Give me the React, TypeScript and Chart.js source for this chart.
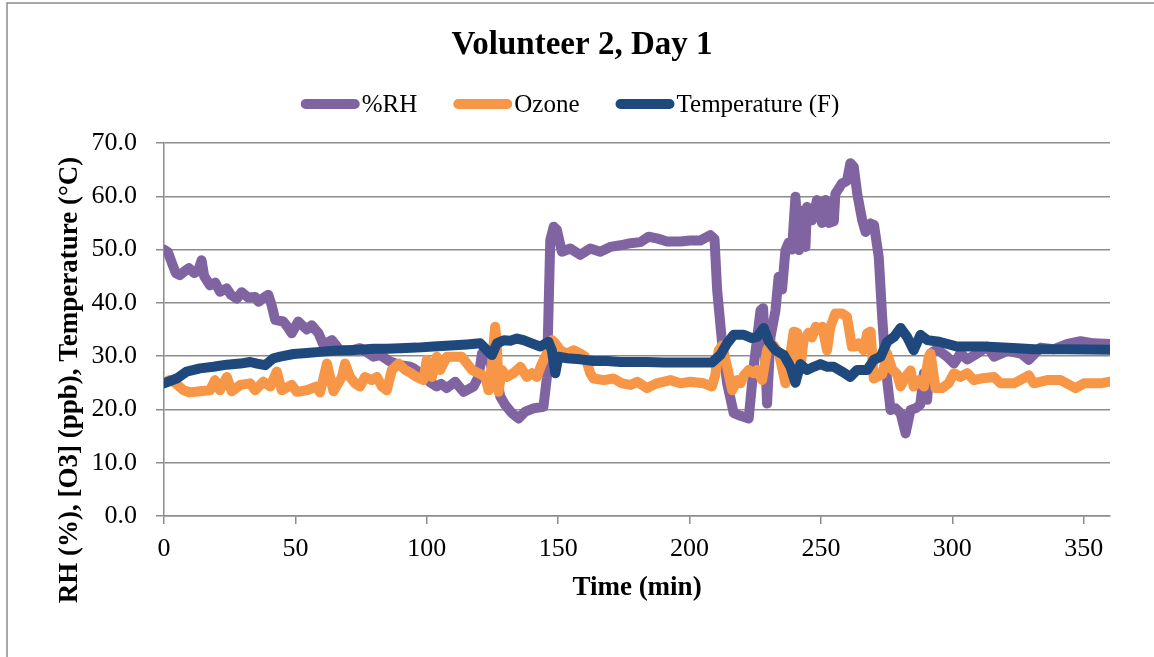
import React, { useEffect, useRef } from "react";
import { Chart, registerables } from "chart.js";

Chart.register(...registerables);

const TITLE = "Volunteer 2, Day 1";
const X_TITLE = "Time (min)";
const Y_TITLE = "RH (%), [O3] (ppb), Temperature (°C)";
const SERIES_LABELS = ["%RH", "Ozone", "Temperature (F)"];
const SERIES_COLORS = ["#8064A2", "#F79646", "#1F497D"];

const X_MIN = 0;
const X_MAX = 360;
const X_TICKS = [0, 50, 100, 150, 200, 250, 300, 350];
const Y_MIN = 0;
const Y_MAX = 70;
const Y_STEP = 10;

const RH_T = [
  0, 1.5, 3, 4.5, 6, 8, 9.5, 11.5, 13, 14.3, 15.3, 17.5, 19.5, 21.3, 23.8, 25.5, 27.7, 29.6, 32, 34.7,
  36, 38, 39.7, 41, 42.3, 45.4, 47, 48.6, 51.1, 54.3, 56.2, 58.8, 60.7, 63.9, 67, 70.8, 74.6, 77, 79.7, 82.2,
  86, 89.9, 93.7, 95, 97, 99.4, 101.5, 103.8, 105.5, 107.6, 110.8, 114, 117.8, 119.7, 121, 122.3, 124.1, 126.7, 128, 129.9,
  132.4, 134.9, 137.5, 140.6, 144.4, 145.7, 147, 148.3, 149.5, 151.4, 154.6, 158.4, 162.2, 166, 169.8, 173.7, 177.5, 181.3, 184.4, 187.6,
  191.4, 196.5, 200.3, 204.1, 207.9, 209.5, 210.5, 212.4, 214.3, 216.8, 219.4, 222.5, 224.4, 227, 228, 229.5, 230.8, 232.7, 233.9, 235.2,
  236.5, 237.7, 239, 240.3, 241.6, 242.8, 244.1, 244.7, 246.6, 248.5, 250.4, 251.7, 253, 254.9, 255.5, 258, 259.9, 261.2, 262.5, 263.8,
  265.7, 267, 268.9, 270.2, 272, 273.3, 274.6, 276.5, 278.4, 280.3, 282.2, 284.1, 286, 287.8, 289.2, 290.4, 291.7, 294.2, 298, 300.6,
  303.1, 305.7, 309.5, 313.3, 315.9, 321, 326.1, 329.1, 333.6, 338.7, 343.8, 348.8, 353.9, 360,
];
const RH_V = [
  50.0, 49.5, 47.5, 45.6, 45.2, 46.0, 46.5, 45.6, 46.0, 48.0, 45.0, 43.3, 43.8, 42.1, 42.7, 41.5, 40.8, 42.0, 41.0, 41.1,
  40.2, 41.0, 41.5, 39.5, 36.8, 36.5, 35.5, 34.3, 36.5, 35.0, 35.8, 34.3, 32.1, 33.0, 31.1, 31.0, 31.5, 30.8, 29.9, 30.2,
  29.0, 28.3, 28.0, 27.7, 27.0, 26.1, 25.0, 24.3, 24.8, 24.0, 25.2, 23.3, 24.3, 26.1, 30.5, 31.0, 28.7, 25.5, 22.4, 20.8,
  19.3, 18.3, 19.6, 20.2, 20.5, 26.0, 51.8, 54.3, 53.7, 49.6, 50.2, 49.0, 50.2, 49.6, 50.5, 50.8, 51.2, 51.4, 52.4, 52.1,
  51.5, 51.5, 51.7, 51.7, 52.7, 52.0, 42.4, 32.4, 24.9, 19.3, 18.8, 18.3, 28.0, 38.6, 39.0, 21.1, 33.6, 38.6, 44.9, 42.5,
  49.9, 51.3, 50.0, 59.9, 49.9, 57.3, 50.5, 58.0, 55.5, 59.3, 55.0, 59.3, 55.0, 55.3, 60.5, 62.4, 62.9, 66.2, 65.5, 60.5,
  55.5, 53.3, 54.9, 54.6, 48.6, 37.4, 28.0, 19.9, 20.2, 19.3, 15.5, 19.9, 20.2, 20.9, 26.8, 21.8, 30.5, 31.3, 29.9, 28.6,
  30.5, 29.4, 30.5, 31.8, 29.9, 31.0, 30.5, 29.3, 31.6, 31.3, 32.3, 32.8, 32.4, 32.3,
];

const OZONE_T = [
  0, 2, 4.2, 7.4, 9.9, 13.7, 17.5, 19.4, 21.3, 23.9, 25.8, 29, 32.8, 34.7, 37.8, 40.4, 42.9, 44.8, 48.6, 50.5,
  54.3, 58.1, 59.4, 62, 64.5, 67.7, 68.9, 70.8, 72.7, 74.6, 76.5, 79, 81, 82.9, 84.8, 86.7, 89.3, 91.8, 94, 96.2,
  98.7, 100, 102, 103.8, 105.1, 107.6, 110.8, 113.3, 115.3, 117.2, 119.7, 122.3, 123.5, 124.8, 126, 126.7, 127.3, 128.6, 130.5, 133,
  135.6, 138.1, 140, 141.9, 143.8, 145.7, 147.7, 148.9, 150.8, 153.3, 155.9, 158.4, 160.3, 162.2, 163.5, 167.3, 171.1, 174.3, 177.5, 180.1,
  183.8, 187.6, 192.7, 196.5, 200.3, 205.4, 208.5, 209.8, 211.1, 212.4, 214.3, 216.2, 218.1, 219.4, 220.7, 222.5, 224.4, 225.7, 227.6, 229.5,
  230.8, 232, 234, 236.5, 237.7, 239.6, 240.9, 242.1, 243.4, 245.3, 246.6, 248, 249.2, 250.5, 252.3, 253.6, 255.5, 258, 259.9, 261.8,
  263.1, 264.4, 266.3, 267.6, 268.9, 270.1, 273.3, 275.2, 277.1, 279, 280.3, 282.2, 284.1, 285.3, 287.2, 289.2, 291, 291.7, 293.6, 296.1,
  298.6, 300.6, 303.1, 305.7, 308.2, 310.8, 315.8, 318.4, 323.5, 329.1, 331, 336.1, 341.2, 346.9, 350.1, 356.4, 360,
];
const OZONE_V = [
  25.0, 25.5, 25.0, 23.6, 23.2, 23.4, 23.6, 25.5, 23.6, 26.1, 23.4, 24.6, 24.9, 23.6, 25.2, 24.3, 27.1, 23.6, 24.6, 23.3,
  23.6, 24.3, 23.2, 28.6, 23.4, 26.1, 28.6, 26.1, 24.9, 24.3, 26.1, 25.5, 26.1, 24.3, 23.6, 27.4, 28.6, 27.4, 26.8, 26.1,
  25.5, 29.3, 26.1, 29.9, 27.4, 29.9, 29.9, 29.9, 28.6, 27.4, 26.8, 26.1, 23.6, 28.6, 35.5, 32.4, 23.3, 27.4, 26.1, 26.8,
  28.0, 26.1, 26.8, 26.1, 28.6, 30.5, 33.0, 32.4, 31.1, 30.5, 31.1, 30.5, 29.9, 26.8, 25.8, 25.5, 25.8, 24.9, 24.6, 25.2,
  24.0, 24.9, 25.5, 24.9, 25.2, 24.9, 24.3, 26.5, 31.1, 32.0, 28.0, 23.6, 25.5, 24.9, 26.4, 27.4, 26.8, 27.4, 25.5, 31.1,
  32.4, 32.0, 30.5, 24.9, 28.0, 34.6, 34.4, 27.4, 33.0, 34.4, 33.5, 35.5, 35.0, 35.5, 31.1, 35.5, 38.0, 38.0, 37.4, 31.8,
  31.8, 32.4, 31.1, 34.3, 34.6, 25.8, 26.6, 30.5, 27.5, 26.6, 24.3, 26.1, 27.3, 24.3, 25.5, 24.3, 29.9, 30.5, 24.0, 24.0,
  24.9, 26.8, 26.1, 26.8, 25.5, 25.8, 26.1, 24.9, 24.9, 26.4, 24.9, 25.5, 25.5, 24.0, 24.9, 24.9, 25.2,
];

const TEMP_T = [
  0, 4.8, 8.6, 13.7, 18.8, 23.9, 29, 32.8, 35.4, 38.5, 41.6, 44.2, 49.3, 54.3, 59.4, 64.5, 69.6, 74.6, 79.7, 84.8,
  89.9, 96.2, 102.6, 108.9, 115.3, 120.3, 122.9, 124.8, 126.7, 129.3, 131.8, 134.3, 136.8, 140, 143.2, 146.3, 147.6, 148.9, 150.1, 153.3,
  158.4, 163.5, 168.6, 173.7, 183.8, 190, 200, 208.5, 211.7, 214.3, 216.8, 220.7, 223.7, 225.7, 228.2, 230.2, 232.7, 235.9, 238.4, 240.3,
  242.2, 244.7, 247.3, 249.8, 252.4, 254.9, 258, 261.2, 263.7, 267.6, 270.1, 272.7, 275.2, 277.8, 280.3, 282.8, 285.3, 287.9, 290.5, 295,
  301.9, 312, 324.8, 331, 343.8, 360,
];
const TEMP_V = [
  24.9, 25.8, 27.1, 27.7, 28.0, 28.4, 28.6, 28.9, 28.6, 28.3, 29.6, 29.9, 30.4, 30.6, 30.8, 31.0, 31.1, 31.2, 31.4, 31.4,
  31.5, 31.6, 31.8, 32.0, 32.2, 32.4, 31.1, 30.2, 32.4, 33.0, 32.9, 33.3, 33.0, 32.4, 31.8, 32.7, 31.1, 26.8, 29.9, 29.6,
  29.4, 29.1, 29.1, 28.9, 28.9, 28.8, 28.8, 28.8, 30.2, 32.4, 34.0, 34.0, 33.4, 33.6, 35.3, 32.7, 31.1, 30.2, 28.0, 25.0,
  28.5, 27.4, 28.0, 28.5, 28.0, 28.0, 27.1, 26.1, 27.4, 27.4, 29.3, 29.9, 32.7, 33.6, 35.3, 33.6, 31.1, 34.0, 33.0, 32.7,
  31.8, 31.8, 31.5, 31.3, 31.3, 31.2,
];

const SERIES_T = [RH_T, OZONE_T, TEMP_T];
const SERIES_V = [RH_V, OZONE_V, TEMP_V];

const SERIF = "'Liberation Serif', 'Times New Roman', serif";
const GRID = "#8c8c8c";

const decorPlugin = {
  id: "decor",
  afterDraw(chart: any) {
    const ctx = chart.ctx as CanvasRenderingContext2D;
    ctx.save();
    // outer frame
    ctx.strokeStyle = GRID;
    ctx.lineWidth = 1.5;
    ctx.beginPath();
    ctx.moveTo(7, chart.height + 2);
    ctx.lineTo(7, 3);
    ctx.lineTo(chart.width + 2, 3);
    ctx.stroke();

    // legend
    ctx.font = `25px ${SERIF}`;
    ctx.textBaseline = "middle";
    ctx.textAlign = "left";
    const sampleW = 59;
    const gapText = 2;
    const gapItem = 36;
    const widths = SERIES_LABELS.map((l) => sampleW + gapText + ctx.measureText(l).width);
    const total = widths.reduce((a, b) => a + b, 0) + gapItem * (widths.length - 1);
    let x = 570 - total / 2;
    const ly = 104;
    SERIES_LABELS.forEach((label, i) => {
      ctx.strokeStyle = SERIES_COLORS[i];
      ctx.lineWidth = 10;
      ctx.lineCap = "round";
      ctx.beginPath();
      ctx.moveTo(x + 5, ly);
      ctx.lineTo(x + sampleW - 5, ly);
      ctx.stroke();
      ctx.fillStyle = "#000";
      ctx.fillText(label, x + sampleW + gapText, ly + 1);
      x += widths[i] + gapItem;
    });

    // y axis title
    ctx.font = `bold 27px ${SERIF}`;
    ctx.textAlign = "center";
    ctx.textBaseline = "middle";
    ctx.fillStyle = "#000";
    ctx.translate(70, 380);
    ctx.rotate(-Math.PI / 2);
    ctx.fillText(Y_TITLE, 0, 0);
    ctx.restore();
  },
};

export default function App() {
  const ref = useRef<HTMLCanvasElement | null>(null);

  useEffect(() => {
    if (!ref.current) return;
    const datasets = SERIES_LABELS.map((label, i) => ({
      label,
      data: SERIES_T[i].map((t, j) => ({ x: t, y: SERIES_V[i][j] })),
      borderColor: SERIES_COLORS[i],
      backgroundColor: SERIES_COLORS[i],
      borderWidth: 10,
      pointRadius: 0,
      tension: 0,
      borderJoinStyle: "round" as const,
      borderCapStyle: "round" as const,
      order: SERIES_LABELS.length - i,
    }));

    const chart = new Chart(ref.current, {
      type: "line",
      data: { datasets },
      options: {
        responsive: false,
        animation: false,
        devicePixelRatio: 1,
        layout: { padding: { left: 54, right: 44, top: 0, bottom: 52.8 } },
        plugins: {
          legend: { display: false },
          tooltip: { enabled: false },
          title: {
            display: true,
            text: TITLE,
            color: "#000",
            font: { family: SERIF, size: 33, weight: "bold" },
            padding: { top: 25.2, bottom: 78.2 },
          },
        },
        scales: {
          x: {
            type: "linear",
            min: X_MIN,
            max: X_MAX,
            afterBuildTicks: (s: any) => {
              s.ticks = X_TICKS.map((v) => ({ value: v }));
            },
            afterFit: (s: any) => {
              s.height = 88.2;
            },
            ticks: {
              color: "#000",
              font: { family: SERIF, size: 26 },
              padding: 9.4,
              maxRotation: 0,
              autoSkip: false,
            },
            grid: {
              display: true,
              drawOnChartArea: false,
              drawTicks: true,
              tickLength: 8,
              color: GRID,
              lineWidth: 1.5,
            },
            border: { display: true, color: GRID, width: 1.5 },
            title: {
              display: true,
              text: X_TITLE,
              color: "#000",
              font: { family: SERIF, size: 27, weight: "bold" },
              padding: { top: 0, bottom: 0 },
            },
          },
          y: {
            type: "linear",
            min: Y_MIN,
            max: Y_MAX,
            afterFit: (s: any) => {
              s.width = 110;
            },
            ticks: {
              stepSize: Y_STEP,
              color: "#000",
              font: { family: SERIF, size: 26 },
              padding: 19,
              callback: (v: any) => Number(v).toFixed(1),
            },
            grid: {
              color: GRID,
              lineWidth: 1.5,
              tickLength: 8,
              drawTicks: true,
            },
            border: { display: true, color: GRID, width: 1.5 },
          },
        },
      },
      plugins: [decorPlugin],
    } as any);

    return () => chart.destroy();
  }, []);

  return (
    <div style={{ position: "fixed", left: 0, top: 0, width: 1154, height: 657, background: "#fff" }}>
      <canvas ref={ref} width={1154} height={657} style={{ display: "block", width: 1154, height: 657 }} />
    </div>
  );
}
